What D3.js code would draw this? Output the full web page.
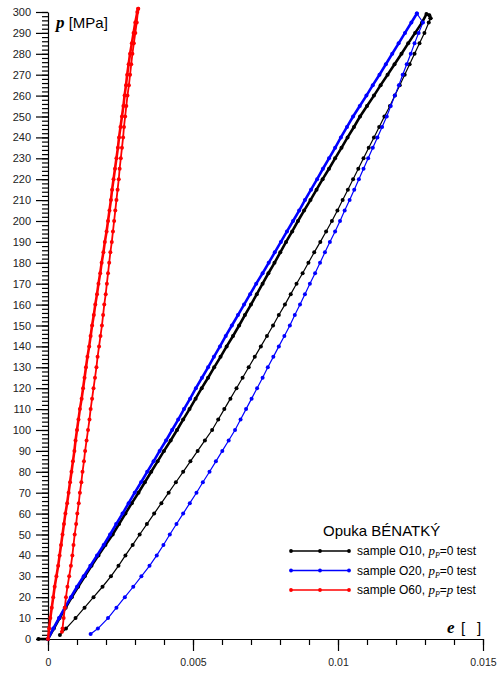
<!DOCTYPE html>
<html>
<head>
<meta charset="UTF-8">
<title>Opuka BÉNATKÝ</title>
<script src="https://d3js.org/d3.v7.min.js"></script>
<style>
  body { margin: 0; background: #fff; }
  svg { display: block; font-family: "Liberation Sans", Arial, sans-serif; }
</style>
</head>
<body>
<svg id="chart" width="500" height="674"></svg>
<script>
// pressure grid [MPa] shared by the loading branches
const pUp = [0,5,10,15,20,25,30,35,40,45,50,55,60,65,70,75,80,85,90,95,100,
  105,110,115,120,125,130,135,140,145,150,155,160,165,170,175,180,185,190,195,200,
  205,210,215,220,225,230,235,240,245,250,255,260,265,270,275,280,285,290,295];
// unloading branches read on the same grid, top to bottom
const pDown = pUp.slice(1).reverse();

// strains, in 1e-3
// sample O10 (black)
const o10Start = [[-0.33, 0]];
const o10Load = [0,0.20,0.40,0.61,0.82,1.04,1.27,1.50,1.74,1.98,2.23,
  2.45,2.67,2.89,3.12,3.34,3.56,3.78,4.00,4.23,4.45,
  4.66,4.88,5.09,5.30,5.52,5.73,5.95,6.16,6.38,6.59,
  6.79,7.00,7.20,7.40,7.60,7.81,8.01,8.21,8.42,8.62,
  8.83,9.05,9.26,9.47,9.69,9.90,10.12,10.33,10.55,10.76,
  11.00,11.24,11.47,11.71,11.95,12.19,12.42,12.66,12.90];
const o10Top = [[13.05, 299], [13.15, 298.5], [13.19, 297]];
const o10Unload = [13.13,12.98,12.81,12.64,12.47,12.30,12.13,11.96,11.79,11.60,
  11.42,11.24,11.06,10.88,10.70,10.52,10.34,10.16,9.98,9.79,
  9.59,9.39,9.18,8.98,8.78,8.57,8.37,8.17,7.96,7.76,
  7.55,7.34,7.13,6.92,6.71,6.50,6.29,6.08,5.87,5.66,
  5.41,5.16,4.91,4.66,4.41,4.16,3.91,3.66,3.41,3.16,
  2.92,2.67,2.43,2.17,1.88,1.57,1.26,0.95,0.62];
const o10End = [[0.41, 1.9]];

// sample O20 (blue)
const o20Start = [];
const o20Load = [0,0.18,0.38,0.58,0.79,1.00,1.23,1.46,1.69,1.92,2.14,
  2.35,2.57,2.78,2.99,3.21,3.42,3.64,3.85,4.07,4.28,
  4.49,4.69,4.90,5.10,5.31,5.52,5.72,5.93,6.13,6.34,
  6.55,6.76,6.97,7.18,7.40,7.61,7.82,8.03,8.24,8.45,
  8.66,8.86,9.07,9.28,9.48,9.69,9.90,10.10,10.31,10.52,
  10.75,10.98,11.20,11.43,11.65,11.87,12.09,12.31,12.53];
const o20Top = [[12.72, 299.3]];
const o20Unload = [12.93,12.78,12.64,12.51,12.37,12.23,12.10,11.96,11.82,11.68,
  11.52,11.36,11.20,11.04,10.88,10.72,10.56,10.40,10.23,10.07,
  9.90,9.72,9.55,9.38,9.21,9.03,8.86,8.69,8.51,8.34,
  8.15,7.96,7.77,7.58,7.40,7.21,7.02,6.83,6.64,6.45,
  6.23,6.01,5.79,5.57,5.34,5.12,4.89,4.66,4.43,4.20,
  3.98,3.75,3.50,3.22,2.94,2.65,2.36,2.07,1.72];
const o20End = [[1.47, 2.4]];

// sample O60 (red)
const o60Start = [];
const o60Load = [0,0.04,0.08,0.13,0.18,0.23,0.29,0.35,0.40,0.45,0.50,
  0.55,0.60,0.66,0.71,0.76,0.81,0.86,0.91,0.95,1.00,
  1.05,1.10,1.16,1.21,1.26,1.31,1.36,1.42,1.47,1.52,
  1.58,1.63,1.69,1.74,1.80,1.85,1.91,1.96,2.02,2.07,
  2.12,2.17,2.21,2.26,2.31,2.36,2.41,2.45,2.50,2.55,
  2.60,2.64,2.69,2.73,2.78,2.83,2.89,2.95,3.01];
const o60Top = [[3.08, 300], [3.11, 301.5]];
const o60Unload = [3.06,3.01,2.96,2.91,2.87,2.83,2.79,2.74,2.70,2.66,
  2.62,2.59,2.55,2.51,2.47,2.44,2.40,2.36,2.32,2.28,
  2.24,2.20,2.15,2.11,2.07,2.03,1.99,1.94,1.90,1.86,
  1.81,1.76,1.71,1.67,1.62,1.57,1.52,1.47,1.43,1.38,
  1.33,1.28,1.24,1.19,1.15,1.10,1.06,1.01,0.97,0.92,
  0.88,0.84,0.79,0.73,0.67,0.62,0.58,0.54,0.50];
const o60End = [[0.48, 3.5]];

const seriesNames = ["O10", "O20", "O60"];
const seriesColors = ["#000000", "#0000ff", "#ff0000"];
const legendTail = ["=0 test", "=0 test", "="];

const yTicks = [0,10,20,30,40,50,60,70,80,90,100,110,120,130,140,150,
  160,170,180,190,200,210,220,230,240,250,260,270,280,290,300];
const xTicks = [0, 0.005, 0.01, 0.015];
const xTickLabels = ["0", "0.005", "0.01", "0.015"];

// loading part: start, loading grid, top points
function loadPart(start, load, top) {
  const pts = [];
  start.forEach(d => pts.push({ e: d[0], p: d[1] }));
  load.forEach((e, i) => pts.push({ e: e, p: pUp[i] }));
  top.forEach(d => pts.push({ e: d[0], p: d[1] }));
  return pts;
}
// unloading part, starting from the last top point
function unloadPart(top, unload, end) {
  const pts = [{ e: top[top.length - 1][0], p: top[top.length - 1][1] }];
  unload.forEach((e, i) => pts.push({ e: e, p: pDown[i] }));
  end.forEach(d => pts.push({ e: d[0], p: d[1] }));
  return pts;
}

const series = [
  { load: loadPart(o10Start, o10Load, o10Top), unload: unloadPart(o10Top, o10Unload, o10End) },
  { load: loadPart(o20Start, o20Load, o20Top), unload: unloadPart(o20Top, o20Unload, o20End) },
  { load: loadPart(o60Start, o60Load, o60Top), unload: unloadPart(o60Top, o60Unload, o60End) }
];

const svg = d3.select("#chart");

const x = d3.scaleLinear().domain([0, 0.015]).range([48, 483]);
const y = d3.scaleLinear().domain([0, 300]).range([639, 12]);

//minor ticks
svg.append("g")
  .attr("transform", "translate(48,0)")
  .call(d3.axisLeft(y).ticks(150).tickSize(6).tickFormat(""))
  .call(g => g.select(".domain").remove());
svg.append("g")
  .attr("transform", "translate(0,639)")
  .call(d3.axisBottom(x).ticks(15).tickSize(6).tickFormat(""))
  .call(g => g.select(".domain").remove());

//major axes
const yAxis = svg.append("g")
  .attr("transform", "translate(48,0)")
  .call(d3.axisLeft(y).tickValues(yTicks).tickSize(12).tickSizeOuter(0).tickPadding(5));
yAxis.selectAll("text").attr("font-size", 11).attr("fill", "#222");

const xAxis = svg.append("g")
  .attr("transform", "translate(0,639)")
  .call(d3.axisBottom(x).tickValues(xTicks).tickSize(12).tickSizeOuter(0).tickPadding(8)
    .tickFormat((d, i) => xTickLabels[i]));
xAxis.selectAll("text").attr("font-size", 10.5).attr("fill", "#222");
svg.selectAll(".domain, .tick line").attr("stroke", "#000").attr("stroke-width", 1.2);

//axis titles
const yTitle = svg.append("text").attr("x", 56).attr("y", 28);
yTitle.append("tspan").text("p")
  .attr("font-family", "'Liberation Serif', 'Times New Roman', serif")
  .attr("font-style", "italic").attr("font-weight", "bold").attr("font-size", 17);
yTitle.append("tspan").text(" [MPa]").attr("font-size", 15);

const xTitle = svg.append("g");
xTitle.append("text").attr("x", 447).attr("y", 633).text("e")
  .attr("font-family", "'Liberation Serif', 'Times New Roman', serif")
  .attr("font-style", "italic").attr("font-weight", "bold").attr("font-size", 17);
xTitle.append("text").attr("x", 461).attr("y", 633).attr("font-size", 15).text("[");
xTitle.append("text").attr("x", 477).attr("y", 633).attr("font-size", 15).text("]");

//curves: loading branches recorded densely -> heavier stroke
const line = d3.line().x(d => x(d.e * 1e-3)).y(d => y(d.p));
const unloadWidth = [1.2, 1.2, 1.8];

series.forEach((s, i) => {
  const g = svg.append("g");
  g.append("path")
    .datum(s.load)
    .attr("fill", "none")
    .attr("stroke", seriesColors[i])
    .attr("stroke-width", 2.6)
    .attr("d", line);
  g.append("path")
    .datum(s.unload)
    .attr("fill", "none")
    .attr("stroke", seriesColors[i])
    .attr("stroke-width", unloadWidth[i])
    .attr("d", line);
  g.selectAll("circle")
    .data(s.load.concat(s.unload))
    .join("circle")
    .attr("cx", d => x(d.e * 1e-3))
    .attr("cy", d => y(d.p))
    .attr("r", 2)
    .attr("fill", seriesColors[i]);
});

//legend
svg.append("text").attr("x", 323).attr("y", 536).attr("font-size", 15)
  .text("Opuka BÉNATKÝ");

seriesNames.forEach((name, i) => {
  const ly = 551 + i * 19.5;
  const g = svg.append("g");
  g.append("line").attr("x1", 291).attr("x2", 349).attr("y1", ly).attr("y2", ly)
    .attr("stroke", seriesColors[i]).attr("stroke-width", 1.4);
  g.selectAll("circle").data([291, 320, 349]).join("circle")
    .attr("cx", d => d).attr("cy", ly).attr("r", 1.9).attr("fill", seriesColors[i]);
  const t = g.append("text").attr("x", 357).attr("y", ly + 4).attr("font-size", 12);
  t.append("tspan").text("sample " + name + ", ");
  t.append("tspan").text("p").attr("font-family", "'Liberation Serif', serif")
    .attr("font-style", "italic").attr("font-size", 13);
  t.append("tspan").text("P").attr("font-family", "'Liberation Serif', serif")
    .attr("font-style", "italic").attr("font-size", 8).attr("dy", 3);
  t.append("tspan").text(legendTail[i]).attr("dy", -3);
  if (i === 2) {
    t.append("tspan").text("p").attr("font-family", "'Liberation Serif', serif")
      .attr("font-style", "italic").attr("font-size", 13);
    t.append("tspan").text(" test");
  }
});
</script>
</body>
</html>
